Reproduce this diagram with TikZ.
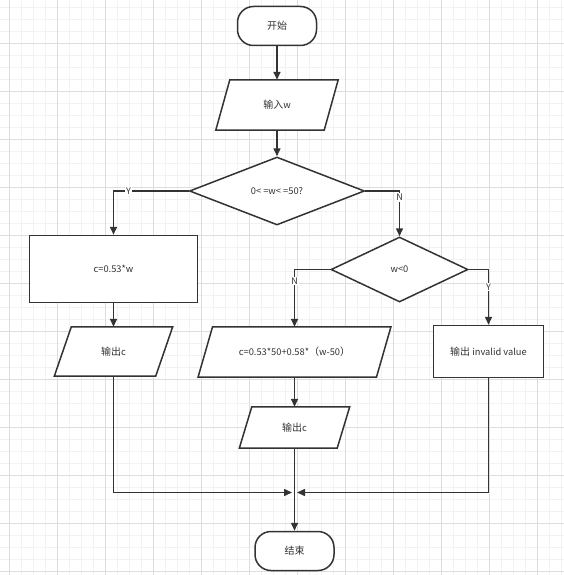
\documentclass[tikz,border=0pt]{standalone}
\usepackage{fontspec}
\setmainfont{Noto Sans CJK SC}
\usetikzlibrary{arrows.meta,shapes.geometric}
\definecolor{ln}{HTML}{333333}
\definecolor{gmin}{HTML}{F2F2F2}
\definecolor{gmaj}{HTML}{DDDDDD}
\newcommand{\zh}[1]{{\fontsize{10}{12}\selectfont #1}}
\tikzset{
  base/.style={draw=ln,line width=1.5pt,fill=white,text=ln,font=\fontsize{9.3}{11}\selectfont,inner sep=0pt},
  term/.style={base,rounded corners=16pt,minimum width=79pt,minimum height=39pt},
  proc/.style={base},
  dec/.style={base,diamond},
  iobox/.style={inner sep=0pt,text=ln,font=\fontsize{9.3}{11}\selectfont},
  conn/.style={draw=ln,line width=1.5pt,-{Triangle[length=8pt,width=7pt]}},
  lab/.style={fill=white,inner sep=1pt,text=ln,font=\fontsize{9}{10}\selectfont},
  iodraw/.style={draw=ln,line width=1.5pt,fill=white}
}
\newcommand{\iopath}[2]{% name, slant
  \path[iodraw] ([xshift=-#2/2]#1.south west) -- ([xshift=#2/2]#1.north west) -- ([xshift=#2/2]#1.north east) -- ([xshift=-#2/2]#1.south east) -- cycle;}
\begin{document}
\begin{tikzpicture}[x=1pt,y=-1pt]
\useasboundingbox (0,0) rectangle (564,575);
\fill[white] (0,0) rectangle (564,575);
% grid
\foreach \k in {0,...,46} {\draw[gmin,line width=0.6pt] (9+12*\k,0) -- (9+12*\k,575);}
\foreach \k in {0,...,47} {\draw[gmin,line width=0.6pt] (0,7+12*\k) -- (564,7+12*\k);}
\foreach \k in {0,...,11} {\draw[gmaj,line width=0.7pt] (9+48*\k,0) -- (9+48*\k,575);}
\foreach \k in {0,...,11} {\draw[gmaj,line width=0.7pt] (0,43+48*\k) -- (564,43+48*\k);}
% nodes
\node[term] (start) at (277,26) {\zh{开始}};
\node[iobox,minimum width=108pt,minimum height=50pt] (in) at (277,105) {};
\iopath{in}{14pt}
\node[iobox] at (in) {\zh{输入}w};
\node[dec,minimum width=175pt,minimum height=68pt] (d1) at (277,191) {0< =w< =50?};
\node[proc,minimum width=168pt,minimum height=67pt] (r1) at (113.5,269) {c=0.53*w};
\node[iobox,minimum width=101pt,minimum height=49pt] (o1) at (113.5,351.5) {};
\iopath{o1}{17pt}
\node[iobox] at (o1) {\zh{输出}c};
\node[dec,minimum width=137pt,minimum height=65pt] (d2) at (399.5,269.5) {w<0};
\node[iobox,minimum width=178pt,minimum height=50pt] (r2) at (294.5,352) {};
\iopath{r2}{14.5pt}
\node[iobox] at (r2) {c=0.53*50+0.58*\zh{（}w-50\zh{）}};
\node[proc,minimum width=110pt,minimum height=52pt] (r3) at (488.5,351.5) {\zh{输出} invalid value};
\node[iobox,minimum width=97.5pt,minimum height=41pt] (o2) at (294.5,427.5) {};
\iopath{o2}{12.5pt}
\node[iobox] at (o2) {\zh{输出}c};
\node[term] (end) at (294.5,551) {\zh{结束}};
\coordinate (merge) at (294.5,492.5);
% connectors
\draw[conn] (start) -- (in);
\draw[conn] (in) -- (d1);
\draw[conn] (d1.west) -| node[lab,pos=0.4] {Y} (r1.north);
\draw[conn] (d1.east) -| node[lab,pos=0.57] {N} (d2.north);
\draw[conn] (r1) -- (o1);
\draw[conn] (d2.west) -| node[lab,pos=0.6] {N} (r2.north);
\draw[conn] (d2.east) -| node[lab,pos=0.66] {Y} (r3.north);
\draw[conn] (r2) -- (o2);
\draw[conn] (o2) -- (end);
\draw[conn] (o1.south) |- ([xshift=-2.5pt]merge);
\draw[conn] (r3.south) |- ([xshift=2.5pt]merge);
\end{tikzpicture}
\end{document}
